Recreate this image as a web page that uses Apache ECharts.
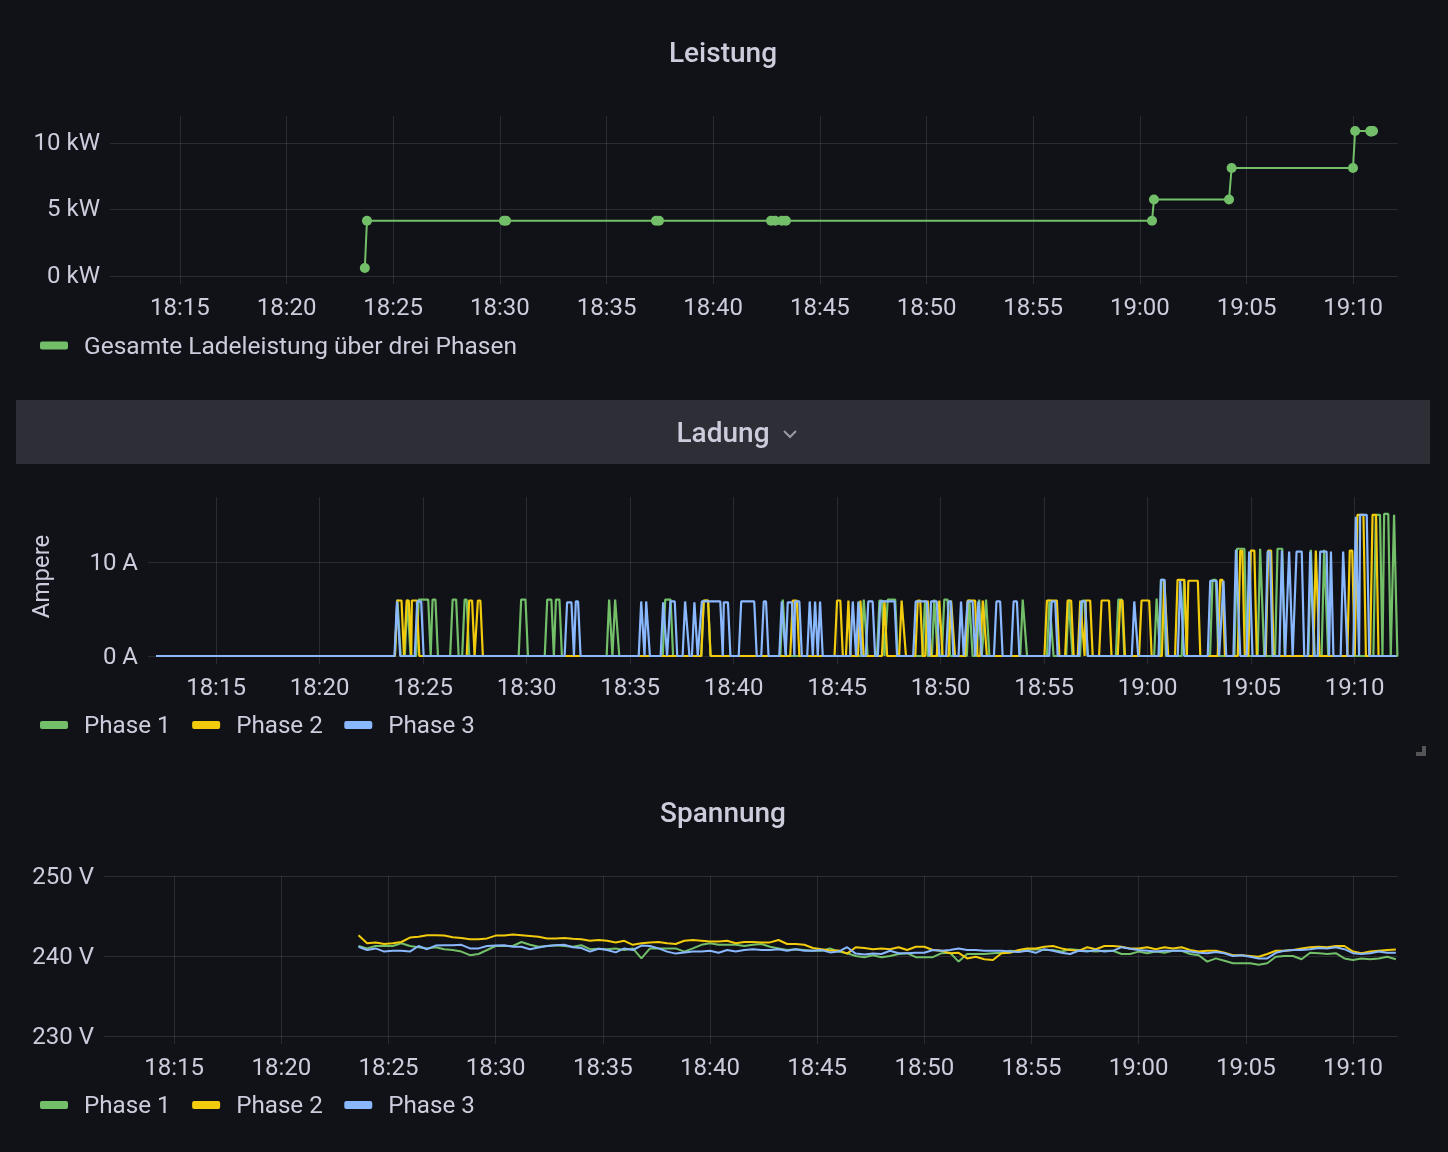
<!DOCTYPE html>
<html>
<head>
<meta charset="utf-8">
<title>Ladung</title>
<script src="https://cdn.jsdelivr.net/npm/echarts@6/dist/echarts.min.js"></script>
<style>
  html, body { margin: 0; padding: 0; background: #111217; }
  #main { width: 1448px; height: 1152px; }
</style>
</head>
<body>
<div id="main"></div>
<script>
// times are minutes after 18:00
var tickMinutes = [15, 20, 25, 30, 35, 40, 45, 50, 55, 60, 65, 70];
var startMinute = 12.1;
var endMinute = 72.1;

// Leistung (kW)
var powerTimes = [23.67, 23.77, 30.19, 30.29, 37.32, 37.46, 42.71, 42.9, 43.22, 43.41, 60.57, 60.66, 64.18, 64.3, 69.99, 70.09, 70.8, 70.84, 70.89, 70.93];
var powerValues = [0.6, 4.15, 4.15, 4.15, 4.15, 4.15, 4.15, 4.15, 4.15, 4.15, 4.15, 5.75, 5.75, 8.12, 8.12, 10.9, 10.9, 10.85, 10.9, 10.9];

// Ladung: on, off, ampere of each charging pulse
var currentPhase1 = [
  [23.70, 23.86, 6], [24.18, 24.34, 6], [24.73, 25.31, 6], [25.40, 25.66, 6], [26.37, 26.66, 6], [26.95, 27.17, 6],
  [29.68, 30.01, 6], [30.94, 31.26, 6], [31.36, 31.65, 6], [33.93, 34.09, 6], [34.22, 34.42, 6], [36.64, 37.02, 6],
  [38.50, 38.83, 5.9], [42.32, 42.48, 6], [46.23, 46.42, 6], [46.99, 47.23, 5.9], [47.39, 47.87, 6], [49.19, 49.32, 5.9],
  [49.64, 49.80, 6], [50.12, 50.40, 6], [51.33, 51.49, 6], [51.81, 51.93, 6], [52.14, 52.30, 6], [53.91, 54.12, 6],
  [55.20, 55.40, 6], [56.13, 56.32, 6], [56.80, 57.05, 5.9], [58.53, 58.82, 6], [60.38, 60.55, 6.1], [60.59, 60.83, 8.1],
  [61.71, 61.84, 8.1], [63.08, 63.36, 8.1], [64.26, 64.74, 11.4], [65.38, 65.58, 11.4], [66.22, 66.57, 11.4], [67.83, 68.02, 11.3],
  [68.47, 68.67, 11.3], [70.97, 71.29, 15], [71.37, 71.69, 15.1], [71.85, 72.01, 15]
];
var currentPhase2 = [
  [23.70, 24.02, 5.9], [24.15, 24.37, 5.9], [24.40, 24.76, 5.9], [27.17, 27.43, 5.9], [27.59, 27.83, 5.9], [38.50, 38.83, 5.9],
  [42.80, 43.12, 5.9], [44.94, 45.22, 5.9], [45.49, 45.59, 5.9], [46.07, 46.23, 5.9], [47.23, 47.36, 5.9], [48.06, 48.27, 5.9],
  [48.84, 49.08, 5.9], [49.32, 49.48, 5.9], [49.88, 50.04, 5.9], [50.45, 50.64, 5.9], [51.25, 51.73, 5.9], [51.98, 52.18, 5.9],
  [55.08, 55.68, 5.9], [56.08, 56.37, 5.9], [56.69, 56.90, 5.9], [56.95, 57.29, 5.9], [57.72, 58.20, 5.9], [58.62, 58.85, 5.9],
  [59.65, 60.14, 5.9], [60.75, 60.94, 8.1], [61.39, 61.84, 8.1], [61.91, 62.49, 8], [63.45, 63.68, 8.1], [64.42, 64.64, 11.2],
  [64.93, 65.22, 11.2], [65.77, 66.03, 11.2], [68.07, 68.25, 11.2], [69.71, 69.95, 11.2], [70.08, 70.49, 15], [70.81, 71.10, 15]
];
var currentPhase3 = [
  [23.68, 23.84, 5.8], [24.66, 24.97, 5.8], [31.90, 32.23, 5.7], [32.32, 32.55, 5.8], [35.48, 35.64, 5.8], [35.72, 35.90, 5.8],
  [36.54, 36.73, 5.7], [36.89, 37.22, 5.8], [37.60, 37.81, 5.8], [38.05, 38.21, 5.7], [38.41, 39.42, 5.8], [39.47, 39.79, 5.7],
  [40.31, 41.06, 5.8], [41.40, 41.63, 5.8], [42.27, 42.46, 5.8], [42.56, 42.88, 5.7], [42.91, 43.24, 5.8], [43.62, 43.77, 5.8],
  [43.88, 44.01, 5.8], [44.12, 44.25, 5.8], [45.70, 45.86, 5.8], [45.97, 46.13, 5.8], [46.45, 46.78, 5.8], [47.03, 47.84, 5.8],
  [48.74, 49.40, 5.8], [49.48, 49.88, 5.8], [50.33, 50.56, 5.8], [50.93, 51.06, 5.8], [51.25, 51.61, 5.8], [51.77, 51.93, 5.8],
  [52.64, 52.94, 5.8], [53.47, 53.75, 5.8], [55.31, 55.60, 5.8], [56.74, 57.05, 5.8], [59.30, 59.49, 5.8], [60.59, 60.88, 8.1],
  [61.52, 61.71, 8], [62.97, 63.40, 8], [63.61, 63.74, 8], [64.21, 64.42, 11.3], [64.85, 65.01, 11.1], [65.74, 65.98, 11.1],
  [66.43, 66.59, 11.2], [66.78, 66.95, 11.1], [67.14, 67.51, 11.1], [67.80, 67.99, 11.1], [68.28, 68.71, 11.1], [68.80, 68.92, 11.1],
  [69.39, 69.60, 11.1], [70.00, 70.16, 14.8], [70.21, 70.65, 15]
];

// Spannung (V), one reading per entry of voltageTimes
var voltageTimes = [
  23.6, 24, 24.4, 24.8, 25.2, 25.6, 26, 26.4, 26.8, 27.2, 27.6, 28, 28.4, 28.8, 29.2, 29.6, 30, 30.4, 30.8, 31.2,
  31.6, 32, 32.4, 32.8, 33.2, 33.6, 34, 34.4, 34.8, 35.2, 35.6, 36, 36.4, 36.8, 37.2, 37.6, 38, 38.4, 38.8, 39.2,
  39.6, 40, 40.4, 40.8, 41.2, 41.6, 42, 42.4, 42.8, 43.2, 43.6, 44, 44.4, 44.8, 45.2, 45.6, 46, 46.4, 46.8, 47.2,
  47.6, 48, 48.4, 48.8, 49.2, 49.6, 50, 50.4, 50.8, 51.2, 51.6, 52, 52.4, 52.8, 53.2, 53.6, 54, 54.4, 54.8, 55.2,
  55.6, 56, 56.4, 56.8, 57.2, 57.6, 58, 58.4, 58.8, 59.2, 59.6, 60, 60.4, 60.8, 61.2, 61.6, 62, 62.4, 62.8, 63.2,
  63.6, 64, 64.4, 64.8, 65.2, 65.6, 66, 66.4, 66.8, 67.2, 67.6, 68, 68.4, 68.8, 69.2, 69.6, 70, 70.4, 70.8, 71.2,
  71.6, 72
];
var voltagePhase1 = [
  241.25, 240.95, 241.25, 241.25, 241.25, 241.6, 241.25, 241.1, 240.95, 241.1, 240.85, 240.75, 240.55, 240.1, 240.25, 240.75, 241.25, 241.25, 241.25, 241.75,
  241.4, 241.15, 241.25, 241.35, 241.25, 241.15, 241.35, 240.85, 240.9, 240.85, 240.95, 240.75, 240.95, 239.7, 240.95, 240.95, 240.95, 240.95, 240.55, 240.95,
  241.4, 241.6, 241.4, 241.4, 241.4, 241.25, 241.4, 241.5, 241.15, 240.95, 240.75, 240.85, 240.75, 240.65, 240.65, 240.95, 240.55, 240.35, 240.0, 239.85,
  240.1, 239.85, 240.0, 240.25, 240.35, 239.85, 239.85, 239.85, 240.35, 240.4, 239.3, 240.25, 240.25, 240.25, 240.35, 240.4, 240.65, 240.55, 240.75, 240.85,
  240.75, 240.75, 240.55, 240.85, 240.75, 240.65, 240.55, 240.65, 240.65, 240.25, 240.25, 240.55, 240.35, 240.55, 240.4, 240.65, 240.65, 240.25, 240.1, 239.3,
  239.7, 239.4, 239.1, 239.1, 239.1, 238.9, 239.1, 239.9, 240.0, 240.0, 239.6, 240.4, 240.35, 240.25, 240.35, 239.7, 239.5, 239.7, 239.6, 239.7,
  239.9, 239.6
];
var voltagePhase2 = [
  242.6, 241.6, 241.7, 241.5, 241.6, 241.75, 242.3, 242.4, 242.6, 242.6, 242.55, 242.35, 242.25, 242.1, 242.1, 242.2, 242.55, 242.55, 242.7, 242.6,
  242.5, 242.4, 242.2, 242.2, 242.25, 242.15, 242.1, 241.9, 242.0, 241.9, 241.7, 241.9, 241.4, 241.6, 241.7, 241.75, 241.6, 241.5, 241.9, 242.0,
  241.9, 241.8, 241.8, 241.9, 241.6, 241.75, 241.75, 241.7, 241.7, 242.0, 241.5, 241.5, 241.4, 241.0, 240.85, 240.7, 240.7, 240.3, 241.1, 241.0,
  240.85, 240.95, 240.85, 241.1, 240.75, 241.15, 241.15, 240.75, 240.65, 240.35, 240.4, 239.7, 239.9, 239.6, 239.5, 240.35, 240.4, 240.75, 240.95, 240.95,
  241.15, 241.25, 240.95, 240.75, 240.65, 241.1, 240.85, 241.25, 241.25, 241.15, 240.95, 240.95, 241.1, 240.85, 241.1, 240.95, 241.1, 240.75, 240.55, 240.65,
  240.65, 240.4, 240.1, 240.1, 240.0, 239.9, 240.25, 240.65, 240.65, 240.75, 240.95, 241.1, 241.15, 241.1, 241.25, 241.25, 240.55, 240.35, 240.55, 240.65,
  240.75, 240.8
];
var voltagePhase3 = [
  241.15, 240.75, 240.95, 240.55, 240.65, 240.65, 240.55, 241.25, 240.85, 241.3, 241.35, 241.35, 241.4, 240.95, 240.95, 241.25, 241.3, 241.35, 241.15, 241.15,
  240.85, 241.05, 241.25, 241.35, 241.4, 241.1, 241.0, 240.55, 240.9, 240.75, 240.45, 240.95, 240.75, 241.3, 241.25, 240.95, 240.55, 240.3, 240.45, 240.55,
  240.55, 240.65, 240.4, 240.75, 240.55, 240.75, 240.85, 240.75, 240.75, 240.85, 240.65, 240.85, 240.65, 240.65, 240.75, 240.45, 240.55, 241.1, 240.3, 240.2,
  240.3, 240.25, 240.65, 240.35, 240.35, 240.4, 240.4, 240.75, 240.65, 240.75, 240.95, 240.75, 240.75, 240.65, 240.65, 240.65, 240.55, 240.5, 240.65, 240.4,
  240.85, 240.65, 240.4, 240.25, 240.65, 240.55, 240.75, 240.55, 240.65, 241.1, 240.9, 240.75, 240.65, 240.55, 240.65, 240.65, 240.65, 240.55, 240.4, 240.35,
  240.5, 240.35, 240.0, 240.1, 239.9, 239.7, 239.7, 240.4, 240.65, 240.75, 240.75, 240.85, 241.0, 240.95, 241.1, 240.85, 240.35, 240.25, 240.35, 240.55,
  240.4, 240.4
];

var GREEN = '#73bf69';
var YELLOW = '#f2cc0c';
var BLUE = '#8ab8ff';
var TEXT = '#ccccdc';
var GRID = 'rgba(240,250,255,0.11)';
var FONT = 'Roboto';

function toTime(minute) {
  return new Date(2021, 0, 1, 18, 0, 0).getTime() + minute * 60000;
}

function pairs(times, values) {
  return times.map(function (t, i) { return [toTime(t), values[i]]; });
}

// turn the pulses into a line that sits on 0 A between them
function pulseLine(pulses) {
  var points = [[toTime(startMinute), 0]];
  pulses.forEach(function (p) {
    points.push([toTime(p[0] - 0.06), 0], [toTime(p[0] + 0.06), p[2]]);
    points.push([toTime(p[1] - 0.06), p[2]], [toTime(p[1] + 0.06), 0]);
  });
  points.push([toTime(72.03), 0]);
  return points;
}

function timeAxis(gridIndex) {
  var ticks = tickMinutes.map(toTime);
  return {
    type: 'time',
    gridIndex: gridIndex,
    min: toTime(startMinute),
    max: toTime(endMinute),
    minInterval: 300000,
    maxInterval: 300000,
    axisLine: { show: false },
    axisTick: { show: true, length: 8, lineStyle: { color: GRID }, customValues: ticks },
    axisLabel: {
      color: TEXT, fontFamily: FONT, fontSize: 24, margin: 21,
      customValues: ticks, formatter: '{HH}:{mm}'
    },
    splitLine: { show: true, showMinLine: false, showMaxLine: false, lineStyle: { color: GRID, width: 1 } }
  };
}

function valueAxis(gridIndex, min, max, interval, unit, ticks, labelShift) {
  return {
    type: 'value',
    gridIndex: gridIndex,
    min: min,
    max: max,
    interval: interval,
    axisLine: { show: false },
    axisTick: { show: true, length: 8, lineStyle: { color: GRID }, customValues: ticks },
    axisLabel: {
      color: TEXT, fontFamily: FONT, fontSize: 24, margin: 18,
      verticalAlign: 'top',
      lineHeight: labelShift * 2,
      customValues: ticks,
      formatter: function (v) { return v + ' ' + unit; }
    },
    splitLine: { show: true, lineStyle: { color: GRID, width: 1 } }
  };
}

function lineSeries(name, color, xIndex, data, extra) {
  return Object.assign({
    name: name,
    type: 'line',
    xAxisIndex: xIndex,
    yAxisIndex: xIndex,
    data: data,
    color: color,
    showSymbol: false,
    symbol: 'none',
    smooth: false,
    lineStyle: { color: color, width: 2 },
    itemStyle: { color: color },
    emphasis: { disabled: true }
  }, extra || {});
}

function legend(top, names, fontSize) {
  return {
    left: 35,
    top: top,
    itemWidth: 28,
    itemHeight: 8,
    itemGap: 21.5,
    icon: 'roundRect',
    data: names,
    selectedMode: false,
    formatter: '{t|{name}}',
    textStyle: {
      rich: { t: { color: TEXT, fontFamily: FONT, fontSize: fontSize, padding: [4, 0, 0, 11] } }
    }
  };
}

function panelTitle(text, top) {
  return {
    text: text,
    left: 718,
    top: top,
    textAlign: 'center',
    textStyle: { color: TEXT, fontFamily: FONT, fontSize: 28, fontWeight: 500 }
  };
}

var phases = ['Phase 1', 'Phase 2', 'Phase 3'];
var ampereAxis = valueAxis(1, 0, 16.9, 10, 'A', [0, 10], 2);
ampereAxis.name = 'Ampere';
ampereAxis.nameLocation = 'middle';
ampereAxis.nameGap = 101;
ampereAxis.nameTextStyle = { color: TEXT, fontFamily: FONT, fontSize: 24 };

var option = {
  backgroundColor: '#111217',
  animation: false,
  title: [panelTitle('Leistung', 36), panelTitle('Ladung', 416), panelTitle('Spannung', 796)],
  legend: [
    legend(330, ['Gesamte Ladeleistung über drei Phasen'], 24.5),
    legend(710, phases, 24.2),
    legend(1090, phases, 24.2)
  ],
  grid: [
    { left: 118, right: 50, top: 116, height: 160 },
    { left: 156, right: 50, top: 497, height: 159 },
    { left: 112, right: 50, top: 876, height: 160 }
  ],
  xAxis: [timeAxis(0), timeAxis(1), timeAxis(2)],
  yAxis: [
    valueAxis(0, 0, 12.03, 5, 'kW', [0, 5, 10], 1),
    ampereAxis,
    valueAxis(2, 230, 250, 10, 'V', [230, 240, 250], 2)
  ],
  series: [
    lineSeries('Gesamte Ladeleistung über drei Phasen', GREEN, 0, pairs(powerTimes, powerValues), {
      symbol: 'circle', symbolSize: 10, showSymbol: true, showAllSymbol: true
    }),
    lineSeries('Phase 1', GREEN, 1, pulseLine(currentPhase1), { lineStyle: { color: GREEN, width: 2.2 } }),
    lineSeries('Phase 2', YELLOW, 1, pulseLine(currentPhase2), { lineStyle: { color: YELLOW, width: 2.2 } }),
    lineSeries('Phase 3', BLUE, 1, pulseLine(currentPhase3), { lineStyle: { color: BLUE, width: 2.2 } }),
    lineSeries('Phase 1', GREEN, 2, pairs(voltageTimes, voltagePhase1)),
    lineSeries('Phase 2', YELLOW, 2, pairs(voltageTimes, voltagePhase2)),
    lineSeries('Phase 3', BLUE, 2, pairs(voltageTimes, voltagePhase3))
  ],
  graphic: [
    { type: 'rect', z: -1, shape: { x: 16, y: 400, width: 1414, height: 64 }, style: { fill: '#2d2e36' } },
    { type: 'polyline', shape: { points: [[784, 431], [790, 437], [796, 431]] }, style: { stroke: '#9a9aa6', lineWidth: 2, fill: null } },
    { type: 'rect', shape: { x: 1416, y: 752, width: 10, height: 4 }, style: { fill: '#555558' } },
    { type: 'rect', shape: { x: 1422, y: 746, width: 4, height: 6 }, style: { fill: '#555558' } }
  ]
};

var mychart = echarts.init(document.getElementById('main'));
mychart.setOption(option);
</script>
</body>
</html>
